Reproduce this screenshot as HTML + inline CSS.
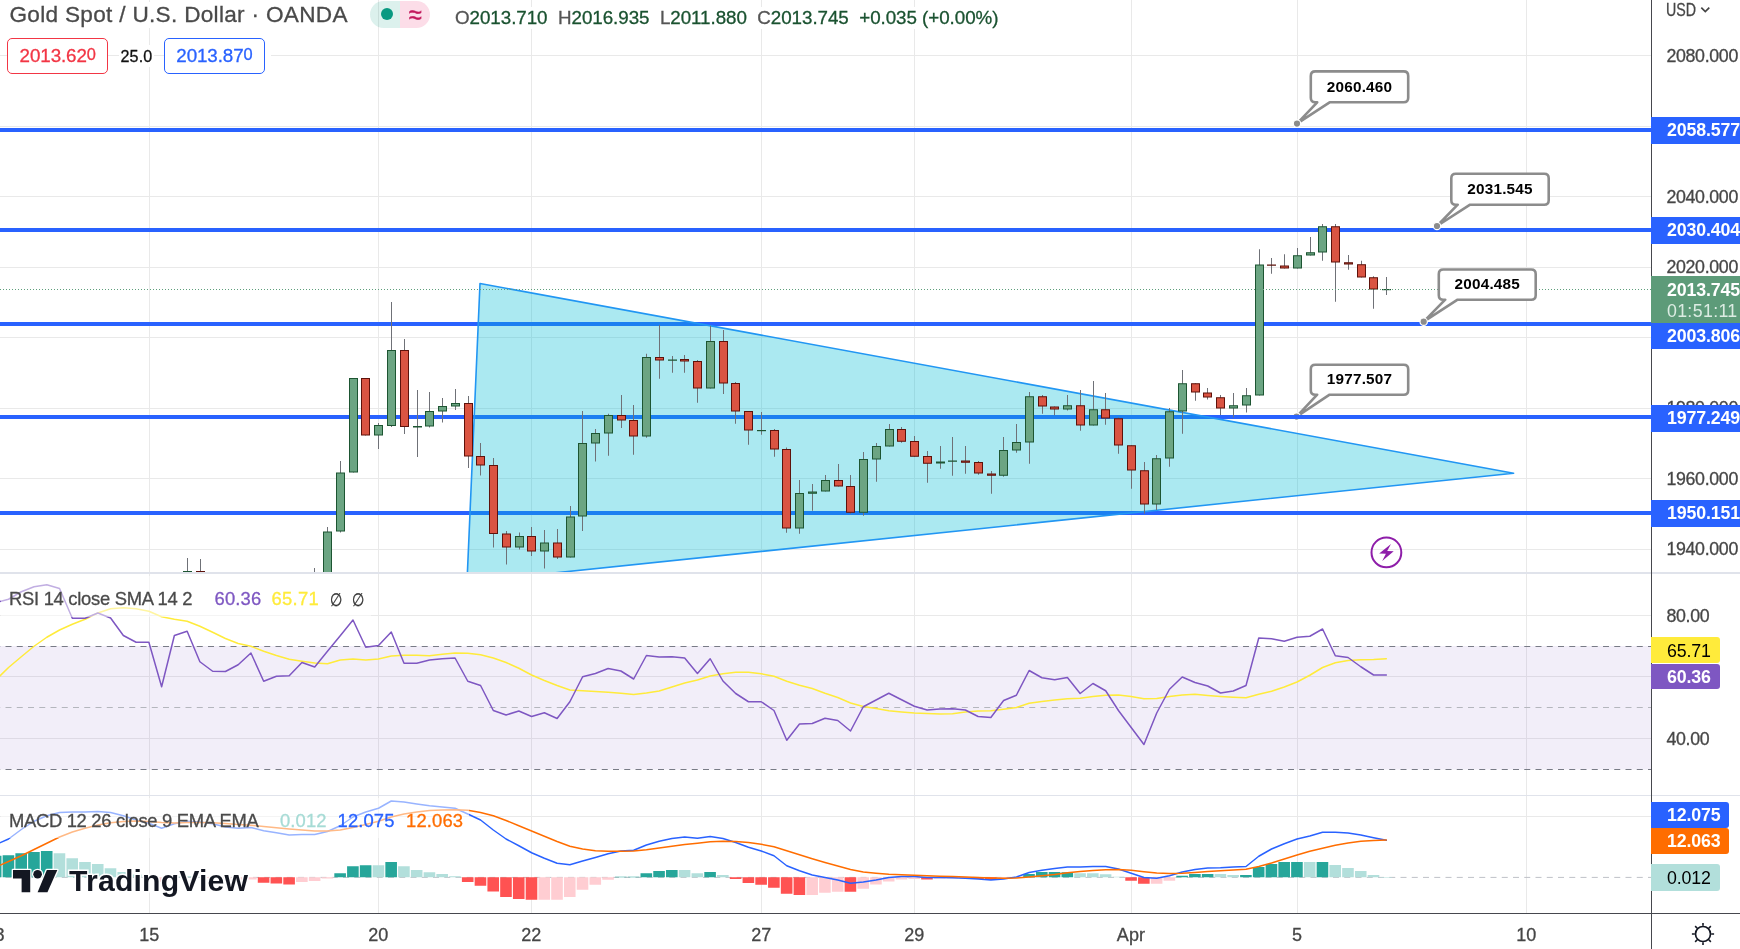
<!DOCTYPE html>
<html lang="en"><head><meta charset="utf-8"><title>Gold Spot / U.S. Dollar</title>
<style>
html,body{margin:0;padding:0;background:#fff}
body{width:1740px;height:949px;overflow:hidden;position:relative;font-family:"Liberation Sans",sans-serif;color:#444}
#c{position:absolute;left:0;top:0;will-change:transform}
#t{position:absolute;left:0;top:0;width:1740px;height:949px;will-change:transform}
.ax,.tm,.lg,.ttl,.ohlc,.sprd,.btn{-webkit-text-stroke:0.3px}
.ax{position:absolute;left:1666.4px;font-size:17.8px;line-height:20px;height:20px;letter-spacing:-0.32px;color:#464646;white-space:nowrap}
.bx{position:absolute;left:1651px;font-size:17.8px;letter-spacing:-0.12px;padding-left:15.9px;box-sizing:border-box;white-space:nowrap;overflow:hidden}
.tm{position:absolute;width:60px;text-align:center;font-size:18px;line-height:20px;letter-spacing:0.1px;color:#464646;white-space:nowrap}
.ttl{position:absolute;left:5.5px;padding:0 4px;background:#fff;font-size:22.6px;line-height:26px;letter-spacing:0.3px;color:#4a4a4a;white-space:nowrap}
.ohlc{position:absolute;left:452px;padding:0 3px;background:#fff;font-size:18.8px;line-height:22px;letter-spacing:-0.05px;color:#1a5230;white-space:nowrap}
.ohlc .k{color:#555}
.ohlc .sp{margin-left:5.3px}
.btn{position:absolute;top:38px;width:100.3px;height:35.6px;box-sizing:border-box;border:1.2px solid;border-radius:5px;font-size:18.8px;line-height:34.2px;text-align:center;letter-spacing:-0.1px;white-space:nowrap;background:#fff}
.btn sup{font-size:16.4px;vertical-align:2.4px;line-height:0;letter-spacing:0}
.sprd{position:absolute;left:118.5px;top:45px;padding:1px 2px;background:#fff;font-size:16.1px;line-height:20px;color:#111;letter-spacing:0.15px}
.lg .n{letter-spacing:0.14px}
.lg .o{font-size:16px;color:#333;letter-spacing:0;display:inline-block;transform:scale(0.9,1.15)}
.lg{position:absolute;left:1px;padding:0 6px 0 8px;font-size:18.4px;line-height:23px;letter-spacing:-0.28px;color:#4a4a4a;white-space:nowrap;background:rgba(255,255,255,0.52)}
.tv{position:absolute;left:13.3px;top:869px;height:24px;white-space:nowrap}
.tvt{position:absolute;left:55.8px;top:-6px;font-size:30.2px;line-height:36px;font-weight:700;color:#131722;letter-spacing:0.17px;-webkit-text-stroke:3px #fff;paint-order:stroke fill}
</style></head><body>
<svg id="c" width="1740" height="949" viewBox="0 0 1740 949">
<defs><clipPath id="cm"><rect x="0" y="0" width="1651.5" height="572"/></clipPath><clipPath id="cr"><rect x="0" y="574" width="1651.5" height="221"/></clipPath><clipPath id="cd"><rect x="0" y="796" width="1651.5" height="117"/></clipPath></defs>
<path d="M149.5 0V913M378.5 0V913M531.5 0V913M761.5 0V913M914.5 0V913M1131.5 0V913M1297.5 0V913M1526.5 0V913M0 55.5H1651.5M0 126.5H1651.5M0 196.5H1651.5M0 267.5H1651.5M0 337.5H1651.5M0 408.5H1651.5M0 478.5H1651.5M0 549.5H1651.5M0 615.5H1651.5M0 676.5H1651.5M0 738.5H1651.5M0 816.5H1651.5" stroke="#e9e9e9" stroke-width="1" fill="none" shape-rendering="crispEdges"/>
<rect x="0" y="646" width="1651.5" height="123.5" fill="#7e57c2" fill-opacity="0.1"/>
<path d="M0 646.5H1651.5M0 769.5H1651.5" stroke="#787b86" stroke-width="1" stroke-dasharray="6 5.25" stroke-dashoffset="-5.5" fill="none"/>
<path d="M0 707.5H1651.5" stroke="#b4b6bd" stroke-width="1" stroke-dasharray="6 5.25" stroke-dashoffset="-5.5" fill="none"/>
<path d="M0 877.4H1651.5" stroke="#bfc1c7" stroke-width="1" stroke-dasharray="6 5.25" stroke-dashoffset="-5.5" fill="none"/>
<g clip-path="url(#cm)">
<path d="M1315.3 364.7H1403.7Q1408.2 364.7 1408.2 369.2V390.2Q1408.2 394.7 1403.7 394.7H1329.6L1296.6 416.6L1317.2 394.7H1315.3Q1310.8 394.7 1310.8 390.2V369.2Q1310.8 364.7 1315.3 364.7Z" fill="#fff" stroke="#8c8c8c" stroke-width="2.6" stroke-linejoin="round"/><circle cx="1296.6" cy="416.6" r="3.7" fill="#8c8c8c" stroke="#fff" stroke-width="1.2"/><text x="1359.5" y="383.8" text-anchor="middle" font-family="Liberation Sans, sans-serif" font-weight="700" font-size="15.3" letter-spacing="0.2" fill="#000">1977.507</text>
<rect x="0" y="128" width="1651.5" height="4" fill="#2962ff"/>
<rect x="0" y="228" width="1651.5" height="4" fill="#2962ff"/>
<rect x="0" y="322" width="1651.5" height="4" fill="#2962ff"/>
<rect x="0" y="415" width="1651.5" height="4" fill="#2962ff"/>
<rect x="0" y="511" width="1651.5" height="4" fill="#2962ff"/>
<polygon points="480,283.5 1513.6,473.2 467,582" fill="#00bcd4" fill-opacity="0.33" stroke="#2196f3" stroke-width="1.6" stroke-linejoin="round"/>
<path d="M187.5 558V573M200.5 559V573M314.5 568V600M327.5 527V600M340.5 461V532.5M353.5 378V472.5M365.5 378V435.5M378.5 423V449M391.5 302V427M404.5 339V434M417.5 390V457M429.5 392V427.5M442.5 398V422.5M455.5 389V410M468.5 396V468M480.5 443V475.5M493.5 458V547.5M506.5 531V564.5M519.5 532.5V549.5M531.5 527V556M544.5 530V568.5M557.5 529V559M570.5 506V557.5M582.5 411V531M595.5 429V461.5M608.5 413.75V455.75M621.5 395V428M633.5 405V454.75M646.5 353.75V437.75M659.5 325V378.75M672.5 356V372.75M684.5 355V372.75M697.5 360V402.75M710.5 325.75V388.5M723.5 330V394M735.5 382V423.75M748.5 411V444.75M761.5 412V434.75M774.5 429V456.75M786.5 447.5V532.75M799.5 480V533.75M812.5 484V510.75M825.5 475V491.5M838.5 464V486.5M850.5 475V513.75M863.5 452V515.75M876.5 443V481.75M889.5 424V446.5M901.5 427V442.75M914.5 436V456.75M927.5 451V482.75M940.5 446V468.75M952.5 437V475.75M965.5 446V473.75M978.5 461V474.75M991.5 471V493.75M1003.5 437V476.75M1016.5 424V452.75M1029.5 392V463.75M1042.5 395V413.75M1054.5 406.5V415.25M1067.5 395V410.5M1080.5 390V430.75M1093.5 381V425.5M1105.5 393V424.75M1118.5 417.5V453.75M1131.5 445.25V488.75M1144.5 462V513.75M1156.5 455V510M1169.5 408V466.75M1182.5 370V433.75M1195.5 383.25V400.75M1207.5 388V399.5M1220.5 395V415M1233.5 393V417.5M1246.5 388V412.5M1259.5 249.25V395.5M1271.5 258V273.75M1284.5 254.25V268.5M1297.5 248V268.5M1310.5 237V255.5M1322.5 224V260.75M1335.5 224V301.75M1348.5 255V269.75M1361.5 260.75V277.5M1373.5 276.25V308.75M1386.5 277V295" stroke="#6f7177" stroke-width="1" fill="none"/>
<rect x="183.0" y="571" width="9" height="1.5" fill="#1d5532"/><rect x="196.0" y="571" width="9" height="1.5" fill="#5e120b"/><rect x="310.5" y="575.5" width="8" height="24" fill="#6ca583" stroke="#1d5532" stroke-width="1"/><rect x="323.5" y="532" width="8" height="67.5" fill="#6ca583" stroke="#1d5532" stroke-width="1"/><rect x="336.5" y="473" width="8" height="58" fill="#6ca583" stroke="#1d5532" stroke-width="1"/><rect x="349.5" y="378.5" width="8" height="93.5" fill="#6ca583" stroke="#1d5532" stroke-width="1"/><rect x="361.5" y="378.5" width="8" height="56.5" fill="#da5442" stroke="#5e120b" stroke-width="1"/><rect x="374.5" y="425.5" width="8" height="9.5" fill="#6ca583" stroke="#1d5532" stroke-width="1"/><rect x="387.5" y="350.5" width="8" height="75" fill="#6ca583" stroke="#1d5532" stroke-width="1"/><rect x="400.5" y="350.5" width="8" height="76" fill="#da5442" stroke="#5e120b" stroke-width="1"/><rect x="413.0" y="426" width="9" height="1.5" fill="#1d5532"/><rect x="425.5" y="411.5" width="8" height="14.5" fill="#6ca583" stroke="#1d5532" stroke-width="1"/><rect x="438.5" y="406.5" width="8" height="4.5" fill="#6ca583" stroke="#1d5532" stroke-width="1"/><rect x="451.5" y="403.5" width="8" height="2.5" fill="#6ca583" stroke="#1d5532" stroke-width="1"/><rect x="464.5" y="403.5" width="8" height="52.5" fill="#da5442" stroke="#5e120b" stroke-width="1"/><rect x="476.5" y="456.5" width="8" height="8.5" fill="#da5442" stroke="#5e120b" stroke-width="1"/><rect x="489.5" y="465.5" width="8" height="68" fill="#da5442" stroke="#5e120b" stroke-width="1"/><rect x="502.5" y="534" width="8" height="13" fill="#da5442" stroke="#5e120b" stroke-width="1"/><rect x="515.5" y="536.5" width="8" height="10.5" fill="#6ca583" stroke="#1d5532" stroke-width="1"/><rect x="527.5" y="536.5" width="8" height="14.5" fill="#da5442" stroke="#5e120b" stroke-width="1"/><rect x="540.5" y="543" width="8" height="8" fill="#6ca583" stroke="#1d5532" stroke-width="1"/><rect x="553.5" y="543" width="8" height="14" fill="#da5442" stroke="#5e120b" stroke-width="1"/><rect x="566.5" y="517" width="8" height="40" fill="#6ca583" stroke="#1d5532" stroke-width="1"/><rect x="578.5" y="443.5" width="8" height="72.5" fill="#6ca583" stroke="#1d5532" stroke-width="1"/><rect x="591.5" y="433.5" width="8" height="9.5" fill="#6ca583" stroke="#1d5532" stroke-width="1"/><rect x="604.5" y="415.5" width="8" height="17.5" fill="#6ca583" stroke="#1d5532" stroke-width="1"/><rect x="617.5" y="415.5" width="8" height="4.5" fill="#da5442" stroke="#5e120b" stroke-width="1"/><rect x="629.5" y="420.5" width="8" height="15.5" fill="#da5442" stroke="#5e120b" stroke-width="1"/><rect x="642.5" y="357.5" width="8" height="78.5" fill="#6ca583" stroke="#1d5532" stroke-width="1"/><rect x="655.5" y="357.5" width="8" height="2.5" fill="#da5442" stroke="#5e120b" stroke-width="1"/><rect x="668.0" y="359.5" width="9" height="1.25" fill="#1d5532"/><rect x="680.5" y="359.5" width="8" height="1.5" fill="#da5442" stroke="#5e120b" stroke-width="1"/><rect x="693.5" y="361.5" width="8" height="26.5" fill="#da5442" stroke="#5e120b" stroke-width="1"/><rect x="706.5" y="341.5" width="8" height="46.5" fill="#6ca583" stroke="#1d5532" stroke-width="1"/><rect x="719.5" y="341.5" width="8" height="41.5" fill="#da5442" stroke="#5e120b" stroke-width="1"/><rect x="731.5" y="383.5" width="8" height="27.5" fill="#da5442" stroke="#5e120b" stroke-width="1"/><rect x="744.5" y="411.5" width="8" height="18.5" fill="#da5442" stroke="#5e120b" stroke-width="1"/><rect x="757.0" y="430" width="9" height="1.2" fill="#1d5532"/><rect x="770.5" y="430.5" width="8" height="18.5" fill="#da5442" stroke="#5e120b" stroke-width="1"/><rect x="782.5" y="449.5" width="8" height="78.5" fill="#da5442" stroke="#5e120b" stroke-width="1"/><rect x="795.5" y="493.5" width="8" height="34.5" fill="#6ca583" stroke="#1d5532" stroke-width="1"/><rect x="808.5" y="492" width="8" height="1.25" fill="#6ca583" stroke="#1d5532" stroke-width="1"/><rect x="821.5" y="480.5" width="8" height="10.5" fill="#6ca583" stroke="#1d5532" stroke-width="1"/><rect x="834.5" y="480.5" width="8" height="5.5" fill="#da5442" stroke="#5e120b" stroke-width="1"/><rect x="846.5" y="486.5" width="8" height="25.75" fill="#da5442" stroke="#5e120b" stroke-width="1"/><rect x="859.5" y="459.5" width="8" height="52.75" fill="#6ca583" stroke="#1d5532" stroke-width="1"/><rect x="872.5" y="446.5" width="8" height="12.5" fill="#6ca583" stroke="#1d5532" stroke-width="1"/><rect x="885.5" y="429.5" width="8" height="16.5" fill="#6ca583" stroke="#1d5532" stroke-width="1"/><rect x="897.5" y="429.5" width="8" height="11.75" fill="#da5442" stroke="#5e120b" stroke-width="1"/><rect x="910.5" y="441.5" width="8" height="14.75" fill="#da5442" stroke="#5e120b" stroke-width="1"/><rect x="923.5" y="456.5" width="8" height="6.75" fill="#da5442" stroke="#5e120b" stroke-width="1"/><rect x="936.0" y="461.5" width="9" height="2" fill="#1d5532"/><rect x="948.0" y="460.5" width="9" height="1.25" fill="#1d5532"/><rect x="961.5" y="461" width="8" height="1.25" fill="#da5442" stroke="#5e120b" stroke-width="1"/><rect x="974.5" y="462.5" width="8" height="10.5" fill="#da5442" stroke="#5e120b" stroke-width="1"/><rect x="987.5" y="474" width="8" height="1.25" fill="#da5442" stroke="#5e120b" stroke-width="1"/><rect x="999.5" y="450.5" width="8" height="24.75" fill="#6ca583" stroke="#1d5532" stroke-width="1"/><rect x="1012.5" y="442.5" width="8" height="7.5" fill="#6ca583" stroke="#1d5532" stroke-width="1"/><rect x="1025.5" y="396.75" width="8" height="45.25" fill="#6ca583" stroke="#1d5532" stroke-width="1"/><rect x="1038.5" y="396.75" width="8" height="9.25" fill="#da5442" stroke="#5e120b" stroke-width="1"/><rect x="1050.5" y="407" width="8" height="2" fill="#da5442" stroke="#5e120b" stroke-width="1"/><rect x="1063.5" y="405.75" width="8" height="3.25" fill="#6ca583" stroke="#1d5532" stroke-width="1"/><rect x="1076.5" y="405.75" width="8" height="19.25" fill="#da5442" stroke="#5e120b" stroke-width="1"/><rect x="1089.5" y="409.75" width="8" height="15.25" fill="#6ca583" stroke="#1d5532" stroke-width="1"/><rect x="1101.5" y="409.75" width="8" height="8.25" fill="#da5442" stroke="#5e120b" stroke-width="1"/><rect x="1114.5" y="418.75" width="8" height="26.25" fill="#da5442" stroke="#5e120b" stroke-width="1"/><rect x="1127.5" y="445.75" width="8" height="24.25" fill="#da5442" stroke="#5e120b" stroke-width="1"/><rect x="1140.5" y="470.75" width="8" height="33.25" fill="#da5442" stroke="#5e120b" stroke-width="1"/><rect x="1152.5" y="458.75" width="8" height="45.25" fill="#6ca583" stroke="#1d5532" stroke-width="1"/><rect x="1165.5" y="411.75" width="8" height="46.25" fill="#6ca583" stroke="#1d5532" stroke-width="1"/><rect x="1178.5" y="383.75" width="8" height="27.25" fill="#6ca583" stroke="#1d5532" stroke-width="1"/><rect x="1191.5" y="383.75" width="8" height="8.25" fill="#da5442" stroke="#5e120b" stroke-width="1"/><rect x="1203.5" y="393" width="8" height="4" fill="#da5442" stroke="#5e120b" stroke-width="1"/><rect x="1216.5" y="397.75" width="8" height="10.25" fill="#da5442" stroke="#5e120b" stroke-width="1"/><rect x="1229.5" y="405.75" width="8" height="2.25" fill="#6ca583" stroke="#1d5532" stroke-width="1"/><rect x="1242.5" y="395.75" width="8" height="9.25" fill="#6ca583" stroke="#1d5532" stroke-width="1"/><rect x="1255.5" y="265" width="8" height="130" fill="#6ca583" stroke="#1d5532" stroke-width="1"/><rect x="1267.0" y="264.5" width="9" height="1.25" fill="#5e120b"/><rect x="1280.5" y="266" width="8" height="2" fill="#da5442" stroke="#5e120b" stroke-width="1"/><rect x="1293.5" y="255.75" width="8" height="12.25" fill="#6ca583" stroke="#1d5532" stroke-width="1"/><rect x="1306.5" y="252.75" width="8" height="2.25" fill="#6ca583" stroke="#1d5532" stroke-width="1"/><rect x="1318.5" y="226.75" width="8" height="25.25" fill="#6ca583" stroke="#1d5532" stroke-width="1"/><rect x="1331.5" y="226.75" width="8" height="35.25" fill="#da5442" stroke="#5e120b" stroke-width="1"/><rect x="1344.5" y="262.75" width="8" height="1.25" fill="#da5442" stroke="#5e120b" stroke-width="1"/><rect x="1357.5" y="264.75" width="8" height="12.25" fill="#da5442" stroke="#5e120b" stroke-width="1"/><rect x="1369.5" y="277.75" width="8" height="11.25" fill="#da5442" stroke="#5e120b" stroke-width="1"/><rect x="1382.0" y="289" width="9" height="1.2" fill="#1d5532"/>
<path d="M0 289.5H1651.5" stroke="#5f9f7c" stroke-width="1" stroke-dasharray="1 2" fill="none"/>
<path d="M1315.3 71.4H1403.7Q1408.2 71.4 1408.2 75.9V97.8Q1408.2 102.3 1403.7 102.3H1329.6L1297 123.6L1317.2 102.3H1315.3Q1310.8 102.3 1310.8 97.8V75.9Q1310.8 71.4 1315.3 71.4Z" fill="#fff" stroke="#8c8c8c" stroke-width="2.6" stroke-linejoin="round"/><circle cx="1297" cy="123.6" r="3.7" fill="#8c8c8c" stroke="#fff" stroke-width="1.2"/><text x="1359.5" y="91.65" text-anchor="middle" font-family="Liberation Sans, sans-serif" font-weight="700" font-size="15.3" letter-spacing="0.2" fill="#000">2060.460</text>
<path d="M1455.8 173.8H1544.2Q1548.7 173.8 1548.7 178.3V200.2Q1548.7 204.7 1544.2 204.7H1470.1L1437 226L1457.7 204.7H1455.8Q1451.3 204.7 1451.3 200.2V178.3Q1451.3 173.8 1455.8 173.8Z" fill="#fff" stroke="#8c8c8c" stroke-width="2.6" stroke-linejoin="round"/><circle cx="1437" cy="226" r="3.7" fill="#8c8c8c" stroke="#fff" stroke-width="1.2"/><text x="1500" y="194.05" text-anchor="middle" font-family="Liberation Sans, sans-serif" font-weight="700" font-size="15.3" letter-spacing="0.2" fill="#000">2031.545</text>
<path d="M1443.3 269.5H1531.2Q1535.7 269.5 1535.7 274V295.2Q1535.7 299.7 1531.2 299.7H1457.6L1423.7 321.7L1445.2 299.7H1443.3Q1438.8 299.7 1438.8 295.2V274Q1438.8 269.5 1443.3 269.5Z" fill="#fff" stroke="#8c8c8c" stroke-width="2.6" stroke-linejoin="round"/><circle cx="1423.7" cy="321.7" r="3.7" fill="#8c8c8c" stroke="#fff" stroke-width="1.2"/><text x="1487.25" y="288.7" text-anchor="middle" font-family="Liberation Sans, sans-serif" font-weight="700" font-size="15.3" letter-spacing="0.2" fill="#000">2004.485</text>
<circle cx="1386.4" cy="552.4" r="14.9" fill="none" stroke="#8e1ea9" stroke-width="2"/>
<polygon points="1391,544 1387.2,551.1 1393.7,551.3 1382.2,560.9 1385.9,553.7 1379.2,553.6" fill="#8e1ea9"/>
</g>
<g clip-path="url(#cr)">
<polyline points="-16.98,690.5 -4.23,680 8.53,667.5 21.29,656.75 34.05,646.25 46.81,637.25 59.56,630 72.32,624.25 85.08,619.25 97.83,613 110.59,608.75 123.35,607.75 136.11,608.75 148.87,611.25 161.62,616.75 174.38,619.25 187.14,621.25 199.89,626.25 212.65,632.25 225.41,638.5 238.17,643.5 250.93,646.25 263.68,651.25 276.44,655.5 289.2,659.25 301.95,661.25 314.71,663 327.47,663.75 340.23,660 352.99,659 365.74,660 378.5,659 391.26,656 404.01,655.25 416.77,655.25 429.53,655.75 442.29,654.25 455.05,653 467.8,653.25 480.56,654.75 493.32,658 506.07,662.5 518.83,668.25 531.59,675 544.35,680.5 557.11,685.5 569.86,690 582.62,690.75 595.38,691.5 608.13,692.25 620.89,693.25 633.65,694.5 646.41,693 659.16,691 671.92,687 684.68,683 697.44,680 710.19,676 722.95,673.75 735.71,672.25 748.47,672.25 761.23,673.75 773.98,676.25 786.74,681.25 799.5,685.25 812.25,688.5 825.01,693.25 837.77,697.5 850.53,703 863.29,706.5 876.04,708.5 888.8,710.75 901.56,712 914.32,713 927.07,713.5 939.83,714 952.59,713.75 965.35,712 978.1,711 990.86,710.75 1003.62,709.25 1016.38,707.5 1029.13,703.25 1041.89,701.5 1054.65,700 1067.4,698.75 1080.16,698.25 1092.92,696.5 1105.68,695.25 1118.43,695 1131.19,696.5 1143.95,698.75 1156.71,698.5 1169.47,696.5 1182.22,695 1194.98,694.25 1207.74,695.5 1220.49,696.5 1233.25,697.25 1246.01,697.75 1258.77,694.25 1271.53,691.25 1284.28,687 1297.04,682 1309.8,675.25 1322.56,667.5 1335.31,662.75 1348.07,660.5 1360.83,659.75 1373.59,659.5 1386.34,658.75" fill="none" stroke="#ffeb3b" stroke-width="1.5" stroke-linejoin="round" stroke-linecap="round"/>
<polyline points="-16.98,604.25 -4.23,602.5 8.53,599.25 21.29,591.75 34.05,586.75 46.81,584.75 59.56,588.5 72.32,618.25 85.08,618.25 97.83,613 110.59,618 123.35,635.5 136.11,642.25 148.87,642.25 161.62,686.75 174.38,635.5 187.14,631.25 199.89,661.75 212.65,671.25 225.41,671.5 238.17,664.75 250.93,653 263.68,681.25 276.44,676.25 289.2,675.75 301.95,662.5 314.71,667 327.47,651.25 340.23,635.75 352.99,620 365.74,647.25 378.5,645.5 391.26,632 404.01,663.25 416.77,663.25 429.53,660 442.29,658.75 455.05,658 467.8,681.25 480.56,685.5 493.32,710.5 506.07,715 518.83,711 531.59,716.5 544.35,712.75 557.11,718.5 569.86,701.75 582.62,676.75 595.38,673.5 608.13,668.5 620.89,671 633.65,679 646.41,655.5 659.16,657 671.92,656.75 684.68,658 697.44,673.5 710.19,658.75 722.95,681 735.71,693.5 748.47,701.75 761.23,701.75 773.98,710.5 786.74,740.25 799.5,724 812.25,723.5 825.01,718.25 837.77,720.5 850.53,731 863.29,706.75 876.04,700 888.8,693.25 901.56,699.75 914.32,706.25 927.07,710 939.83,709 952.59,708.75 965.35,710 978.1,716.5 990.86,717.5 1003.62,700.5 1016.38,695.25 1029.13,670.5 1041.89,677.75 1054.65,679.75 1067.4,677.5 1080.16,693.5 1092.92,683.5 1105.68,690.75 1118.43,710.5 1131.19,727.5 1143.95,744.5 1156.71,713 1169.47,689.25 1182.22,677 1194.98,682.5 1207.74,686 1220.49,693 1233.25,691 1246.01,685.5 1258.77,638 1271.53,638.75 1284.28,641.25 1297.04,637.25 1309.8,636.25 1322.56,629 1335.31,655.75 1348.07,657.5 1360.83,666.75 1373.59,675 1386.34,675" fill="none" stroke="#7e57c2" stroke-width="1.5" stroke-linejoin="round" stroke-linecap="round"/>
</g>
<g clip-path="url(#cd)">
<rect x="-22.88" y="857" width="11.6" height="20.25" fill="#26a69a"/>
<rect x="-10.13" y="855.75" width="11.6" height="21.5" fill="#26a69a"/>
<rect x="2.63" y="855.25" width="11.6" height="22" fill="#26a69a"/>
<rect x="15.39" y="853.25" width="11.6" height="24" fill="#26a69a"/>
<rect x="28.15" y="852" width="11.6" height="25.25" fill="#26a69a"/>
<rect x="40.91" y="851" width="11.6" height="26.25" fill="#26a69a"/>
<rect x="53.66" y="853.25" width="11.6" height="24" fill="#b2dfdb"/>
<rect x="66.42" y="858.25" width="11.6" height="19" fill="#b2dfdb"/>
<rect x="79.18" y="862" width="11.6" height="15.25" fill="#b2dfdb"/>
<rect x="91.93" y="864" width="11.6" height="13.25" fill="#b2dfdb"/>
<rect x="104.69" y="868.25" width="11.6" height="9" fill="#b2dfdb"/>
<rect x="117.45" y="872" width="11.6" height="5.25" fill="#b2dfdb"/>
<rect x="130.21" y="874.5" width="11.6" height="2.75" fill="#b2dfdb"/>
<rect x="142.97" y="875.75" width="11.6" height="1.5" fill="#b2dfdb"/>
<rect x="155.72" y="877.25" width="11.6" height="4.75" fill="#ffcdd2"/>
<rect x="168.48" y="876.5" width="11.6" height="0.75" fill="#b2dfdb"/>
<rect x="181.24" y="876.25" width="11.6" height="1" fill="#b2dfdb"/>
<rect x="193.99" y="876.75" width="11.6" height="0.5" fill="#b2dfdb"/>
<rect x="206.75" y="877.25" width="11.6" height="0.75" fill="#ffcdd2"/>
<rect x="219.51" y="877.25" width="11.6" height="2.75" fill="#ffcdd2"/>
<rect x="232.27" y="877.25" width="11.6" height="3.5" fill="#ffcdd2"/>
<rect x="245.03" y="877.25" width="11.6" height="2.25" fill="#ffcdd2"/>
<rect x="257.78" y="877.25" width="11.6" height="5.5" fill="#ff5252"/>
<rect x="270.54" y="877.25" width="11.6" height="6.25" fill="#ff5252"/>
<rect x="283.3" y="877.25" width="11.6" height="7.25" fill="#ff5252"/>
<rect x="296.06" y="877.25" width="11.6" height="4.75" fill="#ffcdd2"/>
<rect x="308.81" y="877.25" width="11.6" height="3.75" fill="#ffcdd2"/>
<rect x="321.57" y="877.25" width="11.6" height="1.25" fill="#ffcdd2"/>
<rect x="334.33" y="873.25" width="11.6" height="4" fill="#26a69a"/>
<rect x="347.09" y="866.25" width="11.6" height="11" fill="#26a69a"/>
<rect x="359.84" y="865.25" width="11.6" height="12" fill="#26a69a"/>
<rect x="372.6" y="865.25" width="11.6" height="12" fill="#b2dfdb"/>
<rect x="385.36" y="862" width="11.6" height="15.25" fill="#26a69a"/>
<rect x="398.12" y="866.25" width="11.6" height="11" fill="#b2dfdb"/>
<rect x="410.87" y="870" width="11.6" height="7.25" fill="#b2dfdb"/>
<rect x="423.63" y="872.25" width="11.6" height="5" fill="#b2dfdb"/>
<rect x="436.39" y="874" width="11.6" height="3.25" fill="#b2dfdb"/>
<rect x="449.15" y="876.25" width="11.6" height="1" fill="#b2dfdb"/>
<rect x="461.9" y="877.25" width="11.6" height="4.75" fill="#ff5252"/>
<rect x="474.66" y="877.25" width="11.6" height="8.5" fill="#ff5252"/>
<rect x="487.42" y="877.25" width="11.6" height="14.25" fill="#ff5252"/>
<rect x="500.18" y="877.25" width="11.6" height="19.75" fill="#ff5252"/>
<rect x="512.93" y="877.25" width="11.6" height="21.75" fill="#ff5252"/>
<rect x="525.69" y="877.25" width="11.6" height="22.5" fill="#ff5252"/>
<rect x="538.45" y="877.25" width="11.6" height="22.5" fill="#ffcdd2"/>
<rect x="551.21" y="877.25" width="11.6" height="22.5" fill="#ffcdd2"/>
<rect x="563.96" y="877.25" width="11.6" height="19.75" fill="#ffcdd2"/>
<rect x="576.72" y="877.25" width="11.6" height="12.5" fill="#ffcdd2"/>
<rect x="589.48" y="877.25" width="11.6" height="7.5" fill="#ffcdd2"/>
<rect x="602.24" y="877.25" width="11.6" height="2.5" fill="#ffcdd2"/>
<rect x="614.99" y="876.75" width="11.6" height="0.5" fill="#26a69a"/>
<rect x="627.75" y="876.75" width="11.6" height="0.5" fill="#26a69a"/>
<rect x="640.51" y="873.25" width="11.6" height="4" fill="#26a69a"/>
<rect x="653.26" y="871" width="11.6" height="6.25" fill="#26a69a"/>
<rect x="666.02" y="870" width="11.6" height="7.25" fill="#26a69a"/>
<rect x="678.78" y="870" width="11.6" height="7.25" fill="#b2dfdb"/>
<rect x="691.54" y="873.25" width="11.6" height="4" fill="#b2dfdb"/>
<rect x="704.29" y="872" width="11.6" height="5.25" fill="#26a69a"/>
<rect x="717.05" y="875" width="11.6" height="2.25" fill="#b2dfdb"/>
<rect x="729.81" y="877.25" width="11.6" height="1.75" fill="#ff5252"/>
<rect x="742.57" y="877.25" width="11.6" height="5.75" fill="#ff5252"/>
<rect x="755.33" y="877.25" width="11.6" height="7.5" fill="#ff5252"/>
<rect x="768.08" y="877.25" width="11.6" height="10.5" fill="#ff5252"/>
<rect x="780.84" y="877.25" width="11.6" height="16.5" fill="#ff5252"/>
<rect x="793.6" y="877.25" width="11.6" height="17.75" fill="#ff5252"/>
<rect x="806.36" y="877.25" width="11.6" height="17.75" fill="#ffcdd2"/>
<rect x="819.11" y="877.25" width="11.6" height="15.5" fill="#ffcdd2"/>
<rect x="831.87" y="877.25" width="11.6" height="14.5" fill="#ffcdd2"/>
<rect x="844.63" y="877.25" width="11.6" height="14.5" fill="#ff5252"/>
<rect x="857.39" y="877.25" width="11.6" height="11.5" fill="#ffcdd2"/>
<rect x="870.14" y="877.25" width="11.6" height="7.25" fill="#ffcdd2"/>
<rect x="882.9" y="877.25" width="11.6" height="4.25" fill="#ffcdd2"/>
<rect x="895.66" y="877.25" width="11.6" height="2.25" fill="#ffcdd2"/>
<rect x="908.42" y="877.25" width="11.6" height="1.75" fill="#ffcdd2"/>
<rect x="921.17" y="877.25" width="11.6" height="2.25" fill="#ff5252"/>
<rect x="933.93" y="877.25" width="11.6" height="1.5" fill="#ffcdd2"/>
<rect x="946.69" y="877.25" width="11.6" height="1.25" fill="#ffcdd2"/>
<rect x="959.45" y="877.25" width="11.6" height="1.25" fill="#ffcdd2"/>
<rect x="972.2" y="877.25" width="11.6" height="1.75" fill="#ff5252"/>
<rect x="984.96" y="877.25" width="11.6" height="2.75" fill="#ff5252"/>
<rect x="997.72" y="877.25" width="11.6" height="1.75" fill="#ffcdd2"/>
<rect x="1010.48" y="877" width="11.6" height="0.5" fill="#26a69a"/>
<rect x="1023.23" y="874" width="11.6" height="3.25" fill="#26a69a"/>
<rect x="1035.99" y="872" width="11.6" height="5.25" fill="#26a69a"/>
<rect x="1048.75" y="872" width="11.6" height="5.25" fill="#26a69a"/>
<rect x="1061.5" y="872.25" width="11.6" height="5" fill="#26a69a"/>
<rect x="1074.26" y="873.25" width="11.6" height="4" fill="#b2dfdb"/>
<rect x="1087.02" y="873.25" width="11.6" height="4" fill="#b2dfdb"/>
<rect x="1099.78" y="874.25" width="11.6" height="3" fill="#b2dfdb"/>
<rect x="1112.53" y="876.75" width="11.6" height="0.5" fill="#b2dfdb"/>
<rect x="1125.29" y="877.25" width="11.6" height="3.5" fill="#ff5252"/>
<rect x="1138.05" y="877.25" width="11.6" height="6.5" fill="#ff5252"/>
<rect x="1150.81" y="877.25" width="11.6" height="6.5" fill="#ffcdd2"/>
<rect x="1163.57" y="877.25" width="11.6" height="3.5" fill="#ffcdd2"/>
<rect x="1176.32" y="875.75" width="11.6" height="1.5" fill="#26a69a"/>
<rect x="1189.08" y="874" width="11.6" height="3.25" fill="#26a69a"/>
<rect x="1201.84" y="874" width="11.6" height="3.25" fill="#26a69a"/>
<rect x="1214.59" y="874" width="11.6" height="3.25" fill="#b2dfdb"/>
<rect x="1227.35" y="875" width="11.6" height="2.25" fill="#b2dfdb"/>
<rect x="1240.11" y="875" width="11.6" height="2.25" fill="#26a69a"/>
<rect x="1252.87" y="867" width="11.6" height="10.25" fill="#26a69a"/>
<rect x="1265.62" y="864" width="11.6" height="13.25" fill="#26a69a"/>
<rect x="1278.38" y="862" width="11.6" height="15.25" fill="#26a69a"/>
<rect x="1291.14" y="862" width="11.6" height="15.25" fill="#26a69a"/>
<rect x="1303.9" y="862" width="11.6" height="15.25" fill="#b2dfdb"/>
<rect x="1316.65" y="862" width="11.6" height="15.25" fill="#26a69a"/>
<rect x="1329.41" y="865" width="11.6" height="12.25" fill="#b2dfdb"/>
<rect x="1342.17" y="868" width="11.6" height="9.25" fill="#b2dfdb"/>
<rect x="1354.93" y="871" width="11.6" height="6.25" fill="#b2dfdb"/>
<rect x="1367.68" y="875" width="11.6" height="2.25" fill="#b2dfdb"/>
<rect x="1380.44" y="877" width="11.6" height="0.5" fill="#b2dfdb"/>
<polyline points="-16.98,848.25 -4.23,844.5 8.53,839 21.29,829.5 34.05,821.25 46.81,815.75 59.56,812.5 72.32,812 85.08,812 97.83,811.5 110.59,812.5 123.35,815.75 136.11,820 148.87,823.25 161.62,828.25 174.38,823.75 187.14,821.25 199.89,822 212.65,823.75 225.41,827 238.17,828.25 250.93,827.5 263.68,830.75 276.44,832.75 289.2,835 301.95,834.5 314.71,834.5 327.47,831.5 340.23,825.75 352.99,817 365.74,812 378.5,808.25 391.26,801 404.01,802 416.77,804 429.53,805.75 442.29,807 455.05,808.25 467.8,814 480.56,820 493.32,830 506.07,839 518.83,845.75 531.59,852.75 544.35,858.25 557.11,863.25 569.86,864.75 582.62,861 595.38,857.5 608.13,853.75 620.89,851 633.65,850.25 646.41,845 659.16,841.25 671.92,838.5 684.68,837 697.44,838.25 710.19,836.5 722.95,838.5 735.71,842.5 748.47,847.25 761.23,851 773.98,855.75 786.74,865.75 799.5,870.75 812.25,875 825.01,877.5 837.77,880 850.53,883.25 863.29,882 876.04,880 888.8,877.5 901.56,876.5 914.32,876.5 927.07,877.5 939.83,877.5 952.59,877.75 965.35,878.25 978.1,879 990.86,880 1003.62,879 1016.38,877 1029.13,872.5 1041.89,870.25 1054.65,868.5 1067.4,867 1080.16,867 1092.92,866.5 1105.68,866.5 1118.43,869 1131.19,873.25 1143.95,877.5 1156.71,878.25 1169.47,875.75 1182.22,872 1194.98,869.5 1207.74,868 1220.49,867.75 1233.25,867 1246.01,866.5 1258.77,856.25 1271.53,849 1284.28,843.75 1297.04,839 1309.8,836 1322.56,832.25 1335.31,832.25 1348.07,833 1360.83,835 1373.59,837.75 1386.34,840.25" fill="none" stroke="#2962ff" stroke-width="1.45" stroke-linejoin="round" stroke-linecap="round"/>
<polyline points="-16.98,872 -4.23,867 8.53,861.5 21.29,855.75 34.05,849.5 46.81,843.25 59.56,837 72.32,832 85.08,828.25 97.83,825 110.59,822.75 123.35,821.5 136.11,821 148.87,821.5 161.62,822.5 174.38,823 187.14,822.5 199.89,822.5 212.65,822.75 225.41,823.5 238.17,824.5 250.93,825.25 263.68,826.5 276.44,827.75 289.2,829 301.95,830 314.71,831 327.47,831 340.23,830 352.99,827.5 365.74,824.5 378.5,821.25 391.26,817 404.01,814 416.77,812 429.53,810.5 442.29,810 455.05,809.75 467.8,810.25 480.56,812.5 493.32,815.75 506.07,820.5 518.83,825.75 531.59,831 544.35,836.25 557.11,841.5 569.86,846.25 582.62,849 595.38,850.75 608.13,851.25 620.89,851.25 633.65,851 646.41,849.75 659.16,848 671.92,846.25 684.68,844.5 697.44,843.25 710.19,841.75 722.95,841.25 735.71,841.5 748.47,842.5 761.23,844.25 773.98,846.75 786.74,850.75 799.5,854.75 812.25,858.75 825.01,862.5 837.77,866 850.53,869.5 863.29,872 876.04,873.25 888.8,874.25 901.56,874.75 914.32,875.25 927.07,875.75 939.83,876.25 952.59,876.5 965.35,877 978.1,877.5 990.86,878 1003.62,878.25 1016.38,878 1029.13,877 1041.89,875.75 1054.65,874.5 1067.4,872.75 1080.16,871.5 1092.92,870.5 1105.68,869.75 1118.43,869.5 1131.19,870.25 1143.95,871.75 1156.71,873 1169.47,873.5 1182.22,873.25 1194.98,872.5 1207.74,871.5 1220.49,870.75 1233.25,870 1246.01,869.25 1258.77,866.5 1271.53,863 1284.28,859 1297.04,855 1309.8,851.25 1322.56,848.25 1335.31,845.25 1348.07,843 1360.83,841.25 1373.59,840.5 1386.34,840" fill="none" stroke="#ff6d00" stroke-width="1.45" stroke-linejoin="round" stroke-linecap="round"/>
</g>
<rect x="0" y="572" width="1740" height="2" fill="#e0e3eb"/>
<rect x="0" y="795" width="1740" height="1" fill="#e0e3eb"/>
<rect x="1651.5" y="0" width="88.5" height="572" fill="#fff"/>
<rect x="1651.5" y="574" width="88.5" height="221" fill="#fff"/>
<rect x="1651.5" y="796" width="88.5" height="117" fill="#fff"/>
<rect x="1651" y="0" width="1" height="949" fill="#46484e"/>
<rect x="0" y="913" width="1740" height="1" fill="#46484e"/>
</svg>
<div id="t">
<div class="ax" style="top:45.93px">2080.000</div>
<div class="ax" style="top:186.93px">2040.000</div>
<div class="ax" style="top:257.43px">2020.000</div>
<div class="ax" style="top:398.43px">1980.000</div>
<div class="ax" style="top:468.93px">1960.000</div>
<div class="ax" style="top:539.43px">1940.000</div>
<div class="ax" style="top:605.93px">80.00</div>
<div class="ax" style="top:728.93px">40.00</div>
<div class="bx" style="top:117px;height:27px;width:89px;background:#2962ff;color:#fff;line-height:27px;padding-top:0.48px;font-weight:700;">2058.577</div>
<div class="bx" style="top:217px;height:27px;width:89px;background:#2962ff;color:#fff;line-height:27px;padding-top:0.48px;font-weight:700;">2030.404</div>
<div class="bx" style="top:404.5px;height:27px;width:89px;background:#2962ff;color:#fff;line-height:27px;padding-top:0.48px;font-weight:700;">1977.249</div>
<div class="bx" style="top:500px;height:27px;width:89px;background:#2962ff;color:#fff;line-height:27px;padding-top:0.48px;font-weight:700;">1950.151</div>
<div class="bx" style="top:322.6px;height:26.4px;width:89px;background:#2962ff;color:#fff;line-height:26.4px;padding-top:0.78px;font-weight:700;">2003.806</div>
<div class="bx" style="top:276px;height:47px;width:89px;background:#5d9b79;color:#fff;font-weight:700;line-height:20.6px;padding-top:4.23px">2013.745<br><span style="font-weight:400;color:#dcece3;letter-spacing:0.35px">01:51:11</span></div>
<div class="bx" style="top:637.3px;height:26.2px;width:69px;background:#ffeb3b;color:#000;line-height:26.2px;padding-top:0.88px;border-radius:0 3px 3px 0;">65.71</div>
<div class="bx" style="top:663.5px;height:25.2px;width:69px;background:#7e57c2;color:#fff;line-height:25.2px;padding-top:1.38px;font-weight:700;border-radius:0 3px 3px 0;">60.36</div>
<div class="bx" style="top:802px;height:25.6px;width:77.8px;background:#2962ff;color:#fff;line-height:25.6px;padding-top:1.18px;font-weight:700;border-radius:0 3px 3px 0;">12.075</div>
<div class="bx" style="top:827.6px;height:26.4px;width:77.8px;background:#ff6d00;color:#fff;line-height:26.4px;padding-top:0.78px;font-weight:700;border-radius:0 3px 3px 0;">12.063</div>
<div class="bx" style="top:864px;height:26.8px;width:69px;background:#b2dfdb;color:#000;line-height:26.8px;padding-top:0.58px;border-radius:0 3px 3px 0;">0.012</div>
<div class="ax" style="top:-0.5px;letter-spacing:0;font-size:17.9px;transform:scaleX(0.795);transform-origin:0 50%">USD</div>
<svg style="position:absolute;left:1700.2px;top:6.1px" width="11" height="8" viewBox="0 0 11 8"><path d="M1.3 1.7L5.3 5.5L9.3 1.7" fill="none" stroke="#444" stroke-width="1.7"/></svg>
<div class="tm" style="left:119.3px;top:924.86px">15</div>
<div class="tm" style="left:348.3px;top:924.86px">20</div>
<div class="tm" style="left:501.3px;top:924.86px">22</div>
<div class="tm" style="left:731.3px;top:924.86px">27</div>
<div class="tm" style="left:884.3px;top:924.86px">29</div>
<div class="tm" style="left:1101px;top:924.86px">Apr</div>
<div class="tm" style="left:1267px;top:924.86px">5</div>
<div class="tm" style="left:1496.3px;top:924.86px">10</div>
<div class="tm" style="left:-30.5px;top:924.86px">8</div>
<svg style="position:absolute;left:1689px;top:919.85px" width="28" height="28" viewBox="-14 -14 28 28"><circle r="7.5" fill="none" stroke="#131722" stroke-width="1.7"/><path d="M8.2 0L11.1 0M5.8 5.8L7.85 7.85M0 8.2L0 11.1M-5.8 5.8L-7.85 7.85M-8.2 0L-11.1 0M-5.8 -5.8L-7.85 -7.85M-0 -8.2L-0 -11.1M5.8 -5.8L7.85 -7.85" stroke="#131722" stroke-width="1.6" fill="none"/></svg>
<div class="ttl" style="top:1.67px">Gold Spot / U.S. Dollar · OANDA</div>
<div style="position:absolute;left:370px;top:1px;width:60px;height:27px;border-radius:13.5px;overflow:hidden;display:flex"><div style="width:30px;background:rgba(8,153,129,0.14);position:relative"><span style="position:absolute;left:10.8px;top:6.8px;width:12.2px;height:12.2px;border-radius:7px;background:#089981"></span></div><div style="width:30px;background:rgba(233,30,99,0.15);position:relative;color:#c2185b;font:400 24px/26.5px 'Liberation Sans',sans-serif;text-align:center;-webkit-text-stroke:0.25px #c2185b"><span style="display:inline-block;transform:scaleY(1.15);position:relative;top:0.6px">≈</span></div></div>
<div class="ohlc" style="top:6.89px"><span class="k">O</span>2013.710 <span class="k sp">H</span>2016.935 <span class="k sp">L</span>2011.880 <span class="k sp">C</span>2013.745 <span class="sp">+0.035</span> (+0.00%)</div>
<div class="btn" style="left:7.2px;width:101.2px;border-color:#f23645;color:#f23645">2013.62<sup>0</sup></div>
<div class="sprd">25.0</div>
<div style="position:absolute;left:264px;top:45px;width:6.5px;height:22px;background:#fff"></div>
<div class="btn" style="left:164.3px;border-color:#2962ff;color:#2962ff">2013.87<sup>0</sup></div>
<div class="lg" style="top:576px;padding-top:11.12px;padding-bottom:5.88px;">RSI 14 close SMA 14 2<span class="n" style="color:#7e57c2;margin-left:22.3px">60.36</span><span class="n" style="color:#ffeb3b;margin-left:10.2px;letter-spacing:0.3px">65.71</span><span class="o" style="margin-left:9.6px">∅</span><span class="o" style="margin-left:8.6px">∅</span></div>
<div class="lg" style="top:798px;padding-top:11.02px;padding-bottom:5.88px;letter-spacing:-0.315px;">MACD 12 26 close 9 EMA EMA<span class="n" style="color:#a6dbd5;margin-left:21.6px">0.012</span><span class="n" style="color:#2962ff;margin-left:10.8px">12.075</span><span class="n" style="color:#ff6d00;margin-left:11.5px">12.063</span></div>
<div class="tv"><svg width="44.3" height="22.2" viewBox="0 0 36 18.4" preserveAspectRatio="none" style="position:absolute;left:0;top:0.7px;overflow:visible"><g fill="#131722" stroke="#fff" stroke-width="2.2" paint-order="stroke" stroke-linejoin="round"><path d="M14 18.4H7V7H0V0h14z"/><circle cx="20" cy="3.5" r="3.5"/><path d="M28 18.4h-8L27.5 0H36z"/></g></svg><span class="tvt">TradingView</span></div>
</div>
</body></html>
